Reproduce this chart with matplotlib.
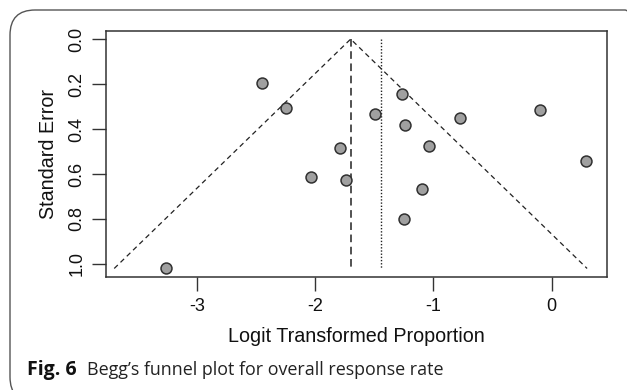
import matplotlib
matplotlib.use("Agg")
import matplotlib.pyplot as plt
from matplotlib.patches import FancyBboxPatch

# study estimates (logit proportion) and their standard errors
logit_prop = [-2.446, -2.246, -2.037, -1.263, -1.496, -1.237, -0.773, -0.096,
              -1.792, -1.040, 0.290, -1.736, -1.096, -1.251, -3.260]
std_err = [0.193, 0.305, 0.615, 0.244, 0.334, 0.380, 0.351, 0.316,
           0.483, 0.475, 0.541, 0.627, 0.667, 0.802, 1.017]

fixed_est = -1.699    # dashed centre line / funnel apex
random_est = -1.446   # dotted line
se_max = 1.02

xticks = [-3, -2, -1, 0]
yticks = [0.0, 0.2, 0.4, 0.6, 0.8, 1.0]
ytick_labels = ["0.0", "0.2", "0.4", "0.6", "0.8", "1.0"]

plt.rcParams['font.family'] = ['Liberation Sans', 'DejaVu Sans']

fig = plt.figure(figsize=(6.27, 3.9), dpi=100)
ax = fig.add_axes([0.169, 0.2897, 0.799, 0.6308])

dash = (0, (4, 3))
ax.plot([fixed_est - 1.96 * se_max, fixed_est, fixed_est + 1.96 * se_max],
        [se_max, 0, se_max], color="#222222", lw=0.9, linestyle=dash)
ax.plot([fixed_est, fixed_est], [0, se_max], color="#222222", lw=1.1,
        linestyle=(0, (5, 3)))
ax.plot([random_est, random_est], [0, se_max], color="#222222", lw=1.0,
        linestyle=(0, (1, 1.3)))

ax.scatter(logit_prop, std_err, s=62, facecolor="#a0a0a0",
           edgecolor="#303030", linewidth=1.1, zorder=3)

ax.set_xlim(-3.768, 0.468)
ax.set_ylim(1.058, -0.036)
ax.set_xticks(xticks)
ax.set_xticklabels([str(t) for t in xticks])
ax.set_yticks(yticks)
ax.set_yticklabels(ytick_labels, rotation=90, va="center")

for s in ax.spines.values():
    s.set_color("#333333")
    s.set_linewidth(1.1)
ax.tick_params(axis="both", length=10, width=1.0, color="#333333",
               labelsize=13, labelcolor="#111111")
ax.tick_params(axis="x", pad=5)
ax.tick_params(axis="y", pad=5)

ax.set_xlabel("Logit Transformed Proportion", fontsize=14.2, color="#111111",
              labelpad=9)
ax.set_ylabel("Standard Error", fontsize=14.2, color="#111111", labelpad=7)

# rounded frame around the figure panel
frame = FancyBboxPatch((10 / 627, -12 / 390), 640 / 627, 392 / 390,
                       boxstyle="round,pad=0,rounding_size=0.04",
                       transform=fig.transFigure, facecolor="none",
                       edgecolor="#555555", lw=1.0, clip_on=False,
                       mutation_aspect=627 / 390)
fig.patches.append(frame)

fig.text(27 / 627, 1 - 370 / 390, "Fig. 6", fontsize=14, fontweight="bold",
         family=["Open Sans", "DejaVu Sans"], va="center", color="#111111")
fig.text(87 / 627, 1 - 370 / 390, "Begg\u2019s funnel plot for overall response rate",
         fontsize=12.9, family=["Open Sans", "DejaVu Sans"], va="center",
         color="#222222")

fig.savefig("out.png", dpi=100)
